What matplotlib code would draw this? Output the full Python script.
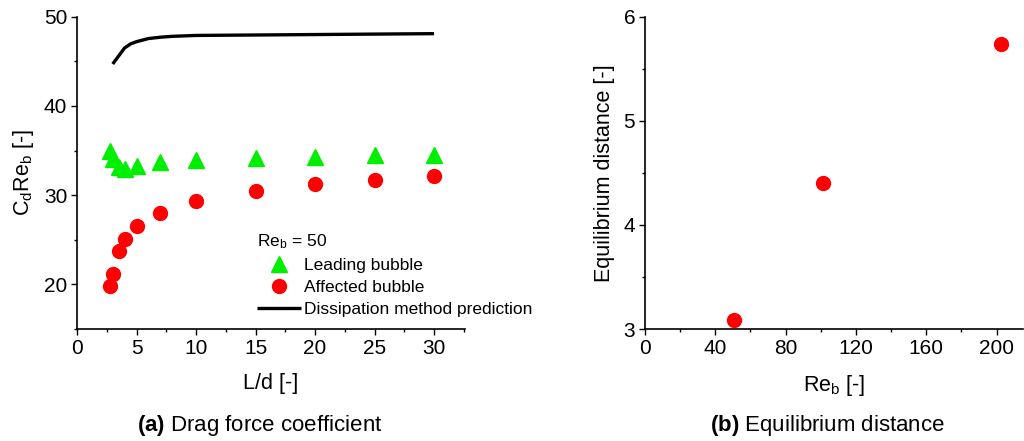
import matplotlib
matplotlib.use("Agg")
import matplotlib.pyplot as plt
from matplotlib.ticker import MultipleLocator

plt.rcParams['font.family'] = ['Liberation Sans', 'DejaVu Sans']
plt.rcParams['mathtext.fontset'] = 'custom'
plt.rcParams['mathtext.rm'] = 'Liberation Sans'
plt.rcParams['mathtext.it'] = 'Liberation Sans:italic'
plt.rcParams['mathtext.bf'] = 'Liberation Sans:bold'

# (a) drag force coefficient vs. separation distance, Re_b = 50
ld = [2.75, 3, 3.5, 4, 5, 7, 10, 15, 20, 25, 30]
leading = [35.0, 34.0, 33.2, 32.95, 33.25, 33.7, 33.95, 34.15, 34.3, 34.45, 34.45]
affected = [19.8, 21.2, 23.7, 25.1, 26.5, 28.0, 29.3, 30.5, 31.2, 31.7, 32.1]

ld_pred = [3, 3.5, 4, 4.5, 5, 6, 7, 8, 10, 15, 20, 25, 30]
pred = [44.7, 45.6, 46.5, 46.95, 47.2, 47.55, 47.7, 47.8, 47.9, 47.95, 48.0, 48.05, 48.1]

# (b) equilibrium distance vs. bubble Reynolds number
re_b = [50.5, 101.5, 202.5]
eq_dist = [3.09, 4.40, 5.74]

GREEN = '#00ee00'
RED = '#ff0000'
TICK_FS = 15
LABEL_FS = 15.5
LEG_FS = 12.5
CAP_FS = 16

fig = plt.figure(figsize=(10.24, 4.41), dpi=100)
ax1 = fig.add_axes([77 / 1024, 1 - 329 / 441, 388 / 1024, 312.3 / 441])
ax2 = fig.add_axes([645 / 1024, 1 - 329 / 441, 378 / 1024, 312.3 / 441])

for ax in (ax1, ax2):
    for side in ('top', 'right'):
        ax.spines[side].set_visible(False)
    for side in ('left', 'bottom'):
        ax.spines[side].set_linewidth(1.2)
    ax.tick_params(which='both', direction='out', labelsize=TICK_FS, width=1.0)
    ax.tick_params(which='major', length=4.5, pad=2.5)
    ax.tick_params(which='minor', length=2.5)

# panel (a)
ax1.plot(ld_pred, pred, color='black', lw=2.4, solid_capstyle='butt',
         label='Dissipation method prediction', zorder=3)
ax1.plot(ld, leading, linestyle='none', marker='^', ms=11, color=GREEN,
         label='Leading bubble', zorder=4)
ax1.plot(ld, affected, linestyle='none', marker='o', ms=10, color=RED,
         label='Affected bubble', zorder=4)
ax1.set_xlim(0, 32.6)
ax1.set_ylim(15, 50)
ax1.xaxis.set_major_locator(MultipleLocator(5))
ax1.xaxis.set_minor_locator(MultipleLocator(2.5))
ax1.yaxis.set_minor_locator(MultipleLocator(5))
ax1.set_yticks([20, 30, 40, 50])
ax1.set_xlabel('L/d [-]', fontsize=LABEL_FS, labelpad=11)
ax1.set_ylabel(r'C$_\mathregular{d}$Re$_\mathregular{b}$ [-]', fontsize=LABEL_FS, labelpad=6)

handles, labels = ax1.get_legend_handles_labels()
order = [1, 2, 0]
leg = ax1.legend([handles[i] for i in order], [labels[i] for i in order],
                 title=r'Re$_\mathregular{b}$ = 50', title_fontsize=LEG_FS,
                 fontsize=LEG_FS, frameon=False, loc='upper left',
                 bbox_to_anchor=(0.465, 0.31), borderpad=0, borderaxespad=0,
                 handlelength=2.5, handletextpad=0.2, labelspacing=0.4,
                 alignment='left')
leg.set_clip_on(False)

# panel (b)
ax2.plot(re_b, eq_dist, linestyle='none', marker='o', ms=10, color=RED, zorder=4)
ax2.set_xlim(0, 215)
ax2.set_ylim(3, 6)
ax2.xaxis.set_major_locator(MultipleLocator(40))
ax2.xaxis.set_minor_locator(MultipleLocator(20))
ax2.yaxis.set_major_locator(MultipleLocator(1))
ax2.yaxis.set_minor_locator(MultipleLocator(0.5))
ax2.set_xlabel(r'Re$_\mathregular{b}$ [-]', fontsize=LABEL_FS, labelpad=11)
ax2.set_ylabel('Equilibrium distance [-]', fontsize=LABEL_FS, labelpad=6)

fig.text(260 / 1024, 1 - 425 / 441, r'$\mathbf{(a)}$ Drag force coefficient',
         ha='center', va='center', fontsize=CAP_FS)
fig.text(827 / 1024, 1 - 425 / 441, r'$\mathbf{(b)}$ Equilibrium distance',
         ha='center', va='center', fontsize=CAP_FS)

fig.savefig('out.png', dpi=100)
